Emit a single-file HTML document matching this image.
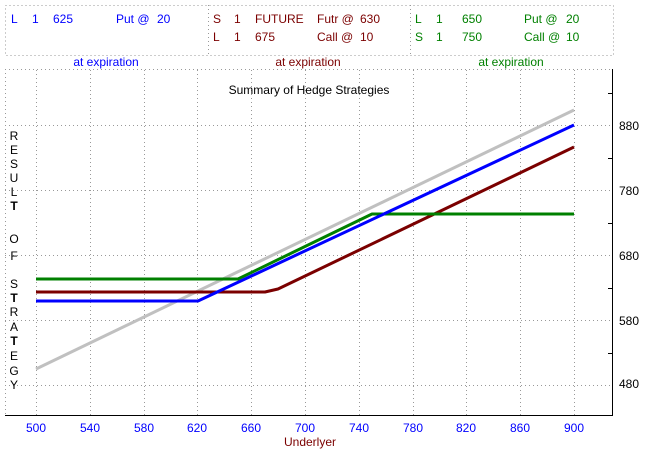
<!DOCTYPE html>
<html><head><style>
body{margin:0;width:661px;height:475px;background:#fff;font-family:"Liberation Sans",sans-serif;font-size:12px;position:relative;overflow:hidden}
</style></head><body>
<svg width="661" height="475" style="position:absolute;left:0;top:0" font-family="Liberation Sans, sans-serif" font-size="12">
<g stroke="#999" stroke-dasharray="1,3" fill="none">
<rect x="5.5" y="5.5" width="608" height="50"/>
<line x1="208.5" y1="5" x2="208.5" y2="55"/>
<line x1="410.5" y1="5" x2="410.5" y2="55"/>
<line x1="5" y1="69.5" x2="613" y2="69.5"/>
<line x1="5.5" y1="69" x2="5.5" y2="415"/>
<line x1="36.5" y1="70" x2="36.5" y2="415"/><line x1="90.5" y1="70" x2="90.5" y2="415"/><line x1="144.5" y1="70" x2="144.5" y2="415"/><line x1="197.5" y1="70" x2="197.5" y2="415"/><line x1="251.5" y1="70" x2="251.5" y2="415"/><line x1="305.5" y1="70" x2="305.5" y2="415"/><line x1="359.5" y1="70" x2="359.5" y2="415"/><line x1="413.5" y1="70" x2="413.5" y2="415"/><line x1="466.5" y1="70" x2="466.5" y2="415"/><line x1="520.5" y1="70" x2="520.5" y2="415"/><line x1="574.5" y1="70" x2="574.5" y2="415"/>
<line x1="5" y1="125.5" x2="613" y2="125.5"/><line x1="5" y1="190.5" x2="613" y2="190.5"/><line x1="5" y1="255.5" x2="613" y2="255.5"/><line x1="5" y1="320.5" x2="613" y2="320.5"/><line x1="5" y1="385.5" x2="613" y2="385.5"/>
</g>
<line x1="5" y1="415.5" x2="613" y2="415.5" stroke="#000"/>
<line x1="612.5" y1="69" x2="612.5" y2="416" stroke="#000"/>
<g stroke="#000"><line x1="608" y1="93.5" x2="613" y2="93.5"/><line x1="608" y1="158.5" x2="613" y2="158.5"/><line x1="608" y1="223.5" x2="613" y2="223.5"/><line x1="608" y1="288.5" x2="613" y2="288.5"/><line x1="608" y1="353.5" x2="613" y2="353.5"/></g>
<g fill="none" stroke-width="3" stroke-linejoin="round">
<polyline stroke="#c0c0c0" points="36,369 574,110"/>
<polyline stroke="#7b0000" points="36,292 265,292 278,289 574,147"/>
<polyline stroke="#008000" points="36,279 238,279 372,214 574,214"/>
<polyline stroke="#0000ff" points="36,301 198,301 574,125"/>
</g>
<text x="309" y="94" text-anchor="middle" fill="#000">Summary of Hedge Strategies</text>
<g fill="#0000ff" text-anchor="middle">
<text x="36" y="432">500</text><text x="90" y="432">540</text><text x="144" y="432">580</text><text x="197" y="432">620</text><text x="251" y="432">660</text><text x="305" y="432">700</text><text x="359" y="432">740</text><text x="413" y="432">780</text><text x="466" y="432">820</text><text x="520" y="432">860</text><text x="574" y="432">900</text>
</g>
<text x="310" y="446" text-anchor="middle" fill="#7b0000">Underlyer</text>
<g fill="#000"><text x="619" y="130">880</text><text x="619" y="195">780</text><text x="619" y="260">680</text><text x="619" y="325">580</text><text x="619" y="388">480</text></g>
<g fill="#000" text-anchor="middle">
<text x="14" y="140">R</text><text x="14" y="154">E</text><text x="14" y="168">S</text><text x="14" y="182">U</text><text x="14" y="196">L</text><text x="14" y="210" font-weight="bold">T</text>
<text x="14" y="243">O</text><text x="14" y="260">F</text>
<text x="14" y="288">S</text><text x="14" y="302" font-weight="bold">T</text><text x="14" y="316">R</text><text x="14" y="331">A</text><text x="14" y="345" font-weight="bold">T</text><text x="14" y="360">E</text><text x="14" y="375">G</text><text x="14" y="389">Y</text>
</g>
<g fill="#0000ff"><text x="11" y="23">L</text><text x="32" y="23">1</text><text x="53" y="23">625</text><text x="116" y="23">Put @</text><text x="157" y="23">20</text>
<text x="106" y="66" text-anchor="middle">at expiration</text></g>
<g fill="#7b0000"><text x="213" y="23">S</text><text x="234" y="23">1</text><text x="255" y="23">FUTURE</text><text x="317" y="23">Futr @</text><text x="360" y="23">630</text>
<text x="213" y="41">L</text><text x="234" y="41">1</text><text x="255" y="41">675</text><text x="317" y="41">Call @</text><text x="360" y="41">10</text>
<text x="308" y="66" text-anchor="middle">at expiration</text></g>
<g fill="#008000"><text x="415" y="23">L</text><text x="436" y="23">1</text><text x="462" y="23">650</text><text x="524" y="23">Put @</text><text x="566" y="23">20</text>
<text x="415" y="41">S</text><text x="436" y="41">1</text><text x="462" y="41">750</text><text x="524" y="41">Call @</text><text x="566" y="41">10</text>
<text x="511" y="66" text-anchor="middle">at expiration</text></g>
</svg>
</body></html>
